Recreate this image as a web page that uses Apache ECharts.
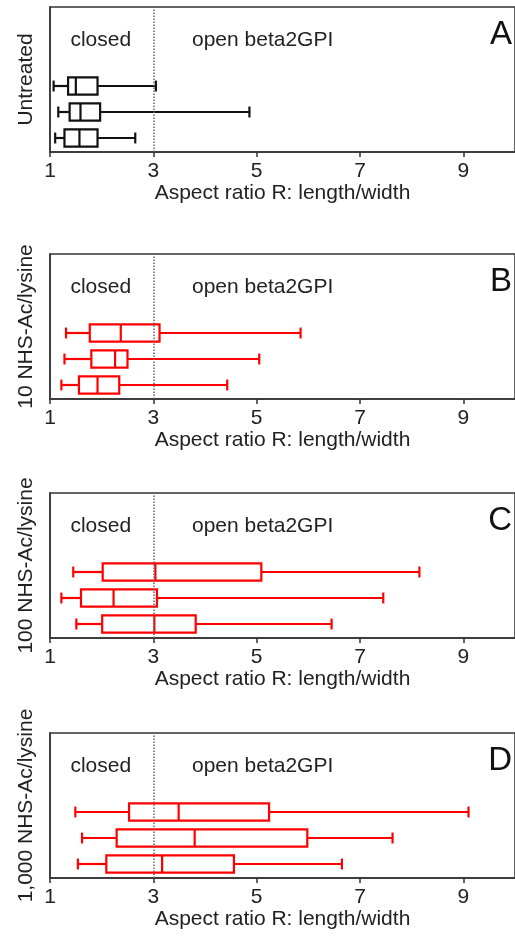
<!DOCTYPE html>
<html>
<head>
<meta charset="utf-8">
<script src="https://cdn.jsdelivr.net/npm/echarts@6/dist/echarts.min.js"></script>
<style>
html, body { margin: 0; padding: 0; background: #fff; }
#chart { width: 515px; height: 936px; }
</style>
</head>
<body>
<div id="chart"></div>
<script>
// three replicates per condition, top row first
const rows = ['rep 1', 'rep 2', 'rep 3'];
// [lower whisker, Q1, median, Q3, upper whisker]
const untreated = [
  [1.07, 1.35, 1.50, 1.92, 3.05],
  [1.16, 1.38, 1.59, 1.97, 4.86],
  [1.10, 1.28, 1.57, 1.92, 2.65]
];
const nhs10 = [
  [1.31, 1.77, 2.37, 3.12, 5.85],
  [1.28, 1.80, 2.26, 2.50, 5.05],
  [1.22, 1.56, 1.92, 2.34, 4.43]
];
const nhs100 = [
  [1.45, 2.02, 3.04, 5.09, 8.15],
  [1.22, 1.60, 2.23, 3.07, 7.45],
  [1.51, 2.01, 3.02, 3.82, 6.45]
];
const nhs1000 = [
  [1.49, 2.53, 3.49, 5.24, 9.10],
  [1.62, 2.29, 3.80, 5.98, 7.63],
  [1.54, 2.09, 3.17, 4.56, 6.65]
];
const panelNames = ['Untreated', '10 NHS-Ac/lysine', '100 NHS-Ac/lysine', '1,000 NHS-Ac/lysine'];
const panelLetters = ['A', 'B', 'C', 'D'];
const panelColors = ['#111', '#ff0000', '#ff0000', '#ff0000'];
const panelData = [untreated, nhs10, nhs100, nhs1000];
const cutoff = 3; // closed / open boundary

const FONT = '"Liberation Sans", Arial, sans-serif';
const LEFT = 50;
const UNIT = 52.5;           // px per unit of R
const XMIN = 1, XMAX = 10;
const H = 145;               // frame height
const tops = [7, 254, 493, 733];

const chart = echarts.init(document.getElementById('chart'));

const renderBox = (color) => (params, api) => {
  const row = api.value(0);
  const lo = api.coord([api.value(1), row]);
  const q1 = api.coord([api.value(2), row]);
  const med = api.coord([api.value(3), row]);
  const q3 = api.coord([api.value(4), row]);
  const hi = api.coord([api.value(5), row]);
  const band = api.size([0, 1])[1];
  const y = lo[1];
  const bh = band * 0.66;
  const ch = band * 0.42;
  const style = { stroke: color, lineWidth: 2.2, fill: null };
  return {
    type: 'group',
    children: [
      { type: 'line', shape: { x1: lo[0], y1: y, x2: q1[0], y2: y }, style },
      { type: 'line', shape: { x1: q3[0], y1: y, x2: hi[0], y2: y }, style },
      { type: 'line', shape: { x1: lo[0], y1: y - ch / 2, x2: lo[0], y2: y + ch / 2 }, style },
      { type: 'line', shape: { x1: hi[0], y1: y - ch / 2, x2: hi[0], y2: y + ch / 2 }, style },
      { type: 'rect', shape: { x: q1[0], y: y - bh / 2, width: q3[0] - q1[0], height: bh }, style },
      { type: 'line', shape: { x1: med[0], y1: y - bh / 2, x2: med[0], y2: y + bh / 2 }, style }
    ]
  };
};

const grid = [], xAxis = [], yAxis = [], series = [], graphic = [];

panelData.forEach((data, i) => {
  const top = tops[i];
  // frame grid
  grid.push({ left: LEFT, top: top, width: (XMAX - XMIN) * UNIT, height: H,
    show: true, borderColor: '#333', borderWidth: 1.5 });
  // box grid: bottom three rows of the frame
  grid.push({ left: LEFT, top: top + 66, width: (XMAX - XMIN) * UNIT, height: 78 });

  xAxis.push({
    gridIndex: 2 * i, type: 'value', min: XMIN, max: XMAX, interval: 2,
    axisLine: { show: true, lineStyle: { color: '#333', width: 1.5 } },
    axisTick: { show: true, length: 5, lineStyle: { color: '#333', width: 1.5 } },
    axisLabel: { fontSize: 21, color: '#222', margin: 9, showMaxLabel: false, fontFamily: FONT },
    splitLine: { show: false },
    name: 'Aspect ratio R: length/width', nameLocation: 'middle', nameGap: 30,
    nameTextStyle: { fontSize: 21, color: '#222', fontFamily: FONT }
  });
  xAxis.push({ gridIndex: 2 * i + 1, type: 'value', min: XMIN, max: XMAX, show: false });

  yAxis.push({
    gridIndex: 2 * i, type: 'value', min: 0, max: 1,
    axisLine: { show: true, lineStyle: { color: '#333', width: 1.5 } },
    axisTick: { show: false }, axisLabel: { show: false }, splitLine: { show: false },
    name: panelNames[i], nameLocation: 'middle', nameGap: 13,
    nameTextStyle: { fontSize: 21, color: '#222', fontFamily: FONT }
  });
  yAxis.push({ gridIndex: 2 * i + 1, type: 'category', data: rows, inverse: true, show: false });

  series.push({
    type: 'line', xAxisIndex: 2 * i, yAxisIndex: 2 * i, data: [],
    markLine: {
      silent: true, symbol: 'none', label: { show: false },
      lineStyle: { type: 'dotted', color: '#666', width: 1.5 },
      data: [{ xAxis: cutoff }]
    }
  });
  series.push({
    type: 'custom', xAxisIndex: 2 * i + 1, yAxisIndex: 2 * i + 1,
    data: data.map((d, k) => [k].concat(d)),
    encode: { x: [1, 2, 3, 4, 5], y: 0 },
    renderItem: renderBox(panelColors[i])
  });

  graphic.push(
    { type: 'text', left: LEFT + 0.96 * UNIT - 30, top: top + 23,
      style: { text: 'closed', fontSize: 21, fontFamily: FONT, fill: '#222' } },
    { type: 'text', left: 192, top: top + 23,
      style: { text: 'open beta2GPI', fontSize: 21, fontFamily: FONT, fill: '#222' } },
    { type: 'text', right: 3, top: top + 11,
      style: { text: panelLetters[i], fontSize: 33, fontFamily: FONT, fill: '#111' } }
  );
});

chart.setOption({
  animation: false,
  textStyle: { fontFamily: FONT },
  grid, xAxis, yAxis, series, graphic
});
</script>
</body>
</html>
